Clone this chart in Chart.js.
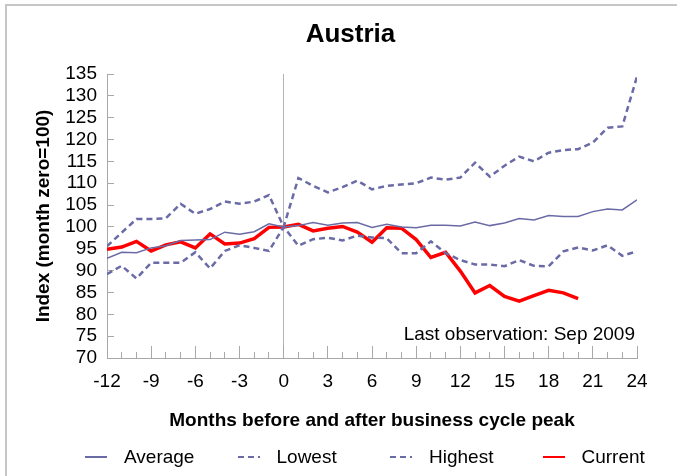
<!DOCTYPE html>
<html>
<head>
<meta charset="utf-8">
<title>Austria</title>
<script src="https://cdn.jsdelivr.net/npm/chart.js@4.4.1/dist/chart.umd.min.js"></script>
<style>
  html, body { margin: 0; padding: 0; background: #fff; overflow: hidden; }
  .frame { position: absolute; left: 5px; top: 4px; width: 700px; height: 500px; border: 2px solid #c6c6c6; }
  .wrap { position: absolute; left: 0; top: 0; width: 677px; height: 476px; }
  .legend { position: absolute; left: 85px; top: 446px; display: flex; font: 19px 'Liberation Sans', Arial, sans-serif; color: #000; }
  .legend__item { width: 152.5px; height: 22px; line-height: 22px; display: flex; align-items: center; white-space: nowrap; }
  .legend__item svg { margin-right: 17px; flex: none; }
</style>
</head>
<body>
<div class="frame"></div>
<div class="wrap"><canvas id="chart" width="677" height="476"></canvas></div>
<div class="legend" id="legend"></div>
<script>
// months relative to the business cycle peak (month 0)
const months = [-12, -11, -10, -9, -8, -7, -6, -5, -4, -3, -2, -1, 0,
  1, 2, 3, 4, 5, 6, 7, 8, 9, 10, 11, 12, 13, 14, 15, 16, 17, 18, 19, 20, 21, 22, 23, 24];

const average = [92.8, 94.2, 94.1, 95.2, 95.7, 96.9, 97.0, 97.1, 98.8, 98.3, 98.9, 100.7, 100.0,
  100.3, 101.0, 100.4, 100.9, 101.0, 99.9, 100.6, 100.0, 99.8, 100.4, 100.4, 100.2,
  101.1, 100.3, 100.9, 101.9, 101.6, 102.6, 102.4, 102.4, 103.5, 104.1, 103.9, 106.2];

const lowest = [89.2, 91.1, 88.2, 91.8, 91.8, 91.8, 94.2, 90.5, 94.5, 95.8, 95.2, 94.5, 100.0,
  95.7, 97.2, 97.5, 96.9, 98.0, 97.6, 97.4, 94.0, 94.0, 96.7, 94.0, 92.4,
  91.4, 91.4, 91.0, 92.4, 91.1, 91.0, 94.4, 95.3, 94.6, 95.8, 93.4, 94.4];

const highest = [95.6, 98.7, 101.8, 101.8, 102.0, 105.3, 103.0, 104.1, 105.8, 105.3, 105.8, 107.3, 100.0,
  111.2, 109.4, 107.9, 109.1, 110.6, 108.6, 109.4, 109.7, 110.0, 111.3, 110.8, 111.3,
  114.7, 111.5, 114.0, 116.1, 115.0, 117.0, 117.6, 117.8, 119.3, 122.7, 123.0, 134.4];

// last observation: Sep 2009 (month 20)
const current = [94.9, 95.4, 96.7, 94.5, 95.9, 96.6, 95.2, 98.4, 96.1, 96.3, 97.3, 99.9, 100.0,
  100.6, 99.1, 99.7, 100.1, 98.8, 96.5, 99.8, 99.7, 97.1, 93.0, 94.2, 89.9,
  84.9, 86.6, 84.1, 83.0, 84.3, 85.5, 84.9, 83.6];

const LINE_BLUE = '#6a6ba6';
const AXIS_GREY = '#a8a8a8';
const FONT = "'Liberation Sans', Arial, sans-serif";

Chart.defaults.font.family = FONT;
Chart.defaults.color = '#000';

/** note in the bottom-right corner of the plot */
const lastObservation = {
  id: 'lastObservation',
  afterDraw(chart) {
    const { ctx, chartArea } = chart;
    ctx.save();
    ctx.font = `19px ${FONT}`;
    ctx.fillStyle = '#000';
    ctx.textAlign = 'right';
    ctx.textBaseline = 'middle';
    ctx.fillText('Last observation: Sep 2009', chartArea.right - 2, chartArea.bottom - 23);
    ctx.restore();
  }
};

const chart = new Chart(document.getElementById('chart'), {
  type: 'line',
  data: {
    labels: months,
    datasets: [
      { label: 'Average', data: average, borderColor: LINE_BLUE, borderWidth: 1.5 },
      { label: 'Lowest', data: lowest, borderColor: LINE_BLUE, borderWidth: 2.5, borderDash: [6, 4] },
      { label: 'Highest', data: highest, borderColor: LINE_BLUE, borderWidth: 2.5, borderDash: [6, 4] },
      { label: 'Current', data: current, borderColor: '#ff0000', borderWidth: 3.5 }
    ]
  },
  options: {
    responsive: false,
    animation: false,
    events: [],
    layout: { padding: { left: 64, right: 40, top: 0, bottom: 43 } },
    elements: {
      line: { tension: 0, fill: false },
      point: { radius: 0 }
    },
    plugins: {
      title: {
        display: true,
        text: 'Austria',
        color: '#000',
        font: { size: 26, weight: 'bold' },
        padding: { top: 19.4, bottom: 23.4 }
      },
      legend: { display: false },
      tooltip: { enabled: false }
    },
    scales: {
      x: {
        type: 'linear',
        min: -12,
        max: 24,
        ticks: {
          stepSize: 1,
          autoSkip: false,
          maxRotation: 0,
          padding: 24.6,
          font: { size: 19 },
          callback: v => (v % 3 === 0 ? v : '')
        },
        grid: {
          drawOnChartArea: true,
          color: ctx => (ctx.tick && ctx.tick.value === 0 ? '#b4b4b4' : 'transparent'),
          tickLength: -12,
          tickColor: AXIS_GREY,
          tickBorderDash: ctx => (ctx.tick && ctx.tick.value % 3 === 0 ? [] : [7, 50])
        },
        border: { color: AXIS_GREY },
        title: {
          display: true,
          text: 'Months before and after business cycle peak',
          font: { size: 19, weight: 'bold' },
          padding: { top: 0, bottom: 1 }
        },
        afterFit(scale) { scale.height = 75; }
      },
      y: {
        min: 70,
        max: 135,
        ticks: { stepSize: 5, autoSkip: false, padding: 17, font: { size: 19 } },
        grid: { drawOnChartArea: false, tickLength: -7, tickColor: AXIS_GREY },
        border: { color: AXIS_GREY },
        title: {
          display: true,
          text: 'Index (month zero=100)',
          font: { size: 19, weight: 'bold' },
          padding: { top: -31.4, bottom: 0 }
        },
        afterFit(scale) { scale.width = 43; }
      }
    }
  },
  plugins: [lastObservation]
});

/** legend under the chart, built from the datasets */
function renderLegend() {
  const html = chart.data.datasets.map(ds => {
    const dash = ds.borderDash ? ' stroke-dasharray="6 4 6 4 2 100"' : '';
    return `
      <div class="legend__item">
        <svg width="22" height="4"><line x1="0" y1="2" x2="22" y2="2" stroke="${ds.borderColor}" stroke-width="2"${dash}/></svg>
        <span>${ds.label}</span>
      </div>`;
  }).join('');
  document.getElementById('legend').innerHTML = html;
}
renderLegend();
</script>
</body>
</html>
